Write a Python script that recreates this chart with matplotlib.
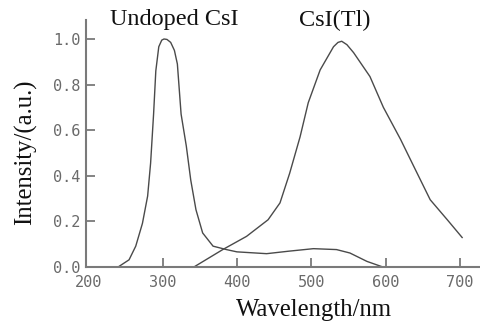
import matplotlib
matplotlib.use("Agg")
import matplotlib.pyplot as plt

# emission spectra
undoped_wl = [241, 255, 264, 273, 280, 284, 288, 291, 295, 299, 302, 306, 311, 316,
              320, 325, 332, 338, 345, 354, 368, 386, 400, 440, 470, 503, 534, 552,
              575, 595]
undoped_int = [0.0, 0.03, 0.09, 0.19, 0.31, 0.455, 0.67, 0.86, 0.966, 0.995, 1.0,
               0.998, 0.985, 0.95, 0.89, 0.67, 0.53, 0.38, 0.25, 0.148, 0.09, 0.075,
               0.065, 0.057, 0.068, 0.079, 0.075, 0.06, 0.023, 0.0]

tl_wl = [343, 381, 413, 442, 458, 471, 485, 496, 512, 530, 536, 541, 548, 557, 579,
         597, 620, 638, 660, 683, 703]
tl_int = [0.0, 0.075, 0.133, 0.206, 0.28, 0.41, 0.57, 0.72, 0.864, 0.966, 0.985,
          0.99, 0.975, 0.94, 0.835, 0.70, 0.56, 0.44, 0.294, 0.206, 0.128]

x_ticks = [200, 300, 400, 500, 600, 700]
y_ticks = [0.0, 0.2, 0.4, 0.6, 0.8, 1.0]

line_col = "#4a4a4a"
axis_col = "#7a7a7a"
text_col = "#111111"
serif = "Liberation Serif"

fig = plt.figure(figsize=(4.8, 3.24), dpi=100)
ax = fig.add_axes([0.179, 0.177, 0.821, 0.761])

ax.plot(undoped_wl, undoped_int, color=line_col, lw=1.0)
ax.plot(tl_wl, tl_int, color=line_col, lw=1.0)

ax.set_xlim(197, 727)
ax.set_ylim(0, 1.083)
ax.set_xticks(x_ticks)
ax.set_yticks(y_ticks)
ax.set_xticklabels([str(v) for v in x_ticks])
ax.set_yticklabels([f"{v:.1f}" for v in y_ticks])

for s in ["top", "right"]:
    ax.spines[s].set_visible(False)
for s in ["left", "bottom"]:
    ax.spines[s].set_color(axis_col)
    ax.spines[s].set_linewidth(1.5)

ax.tick_params(axis="both", direction="in", length=6.5, width=1.3, color=axis_col,
               labelcolor="#6a6a6a", labelsize=11)
ax.tick_params(axis="y", pad=4)
ax.tick_params(axis="x", pad=6)
for lab in ax.get_xticklabels() + ax.get_yticklabels():
    lab.set_family("DejaVu Sans Mono")
# the 200 tick sits on the y axis, hide its mark
ax.xaxis.get_major_ticks()[0].tick1line.set_visible(False)

fig.text(0.655, 0.043, "Wavelength/nm", ha="center", va="center",
         family=serif, fontsize=17.8, color=text_col)
fig.text(0.054, 0.531, "Intensity/(a.u.)", ha="center", va="center", rotation=90,
         family=serif, fontsize=17.8, color=text_col)
fig.text(0.3625, 0.94, "Undoped CsI", ha="center", va="center",
         family=serif, fontsize=17.5, color=text_col)
fig.text(0.698, 0.938, "CsI(Tl)", ha="center", va="center",
         family=serif, fontsize=17.5, color=text_col)

fig.savefig("out.png", dpi=100)
